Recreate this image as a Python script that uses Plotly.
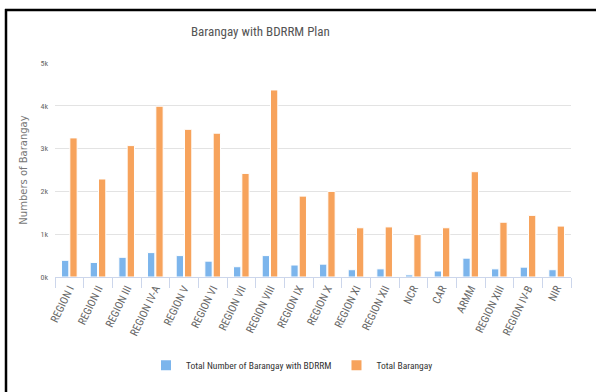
import plotly.graph_objects as go

regions = ["REGION I", "REGION II", "REGION III", "REGION IV-A", "REGION V", "REGION VI",
           "REGION VII", "REGION VIII", "REGION IX", "REGION X", "REGION XI", "REGION XII",
           "NCR", "CAR", "ARMM", "REGION XIII", "REGION IV-B", "NIR"]
with_bdrrm = [390, 340, 460, 570, 500, 370, 240, 500, 280, 300, 170, 190, 50, 140, 440, 190, 230, 170]
total_barangay = [3250, 2290, 3070, 3990, 3450, 3360, 2420, 4370, 1890, 2000, 1150, 1170, 990, 1150, 2460, 1280, 1440, 1190]
y_tick_vals = [0, 1000, 2000, 3000, 4000, 5000]
y_tick_text = ["0k", "1k", "2k", "3k", "4k", "5k"]

FONT = "Liberation Sans Narrow, Arial Narrow, Roboto Condensed, Liberation Sans, sans-serif"

fig = go.Figure()
fig.add_trace(go.Bar(name="Total Number of Barangay with BDRRM", x=regions, y=with_bdrrm,
                     marker=dict(color="#7cb5ec", line=dict(color="white", width=1))))
fig.add_trace(go.Bar(name="Total Barangay", x=regions, y=total_barangay,
                     marker=dict(color="#f7a35c", line=dict(color="white", width=1))))

L, R, T, B = 55, 25, 63, 111
W, H = 596, 392
pw, ph = W - L - R, H - T - B

def px_x(p):
    return (p - L) / pw

def px_y(p):
    return (H - B - p) / ph

fig.update_layout(
    width=W, height=H,
    margin=dict(l=L, r=R, t=T, b=B),
    paper_bgcolor="white", plot_bgcolor="white",
    barmode="group", bargap=0.42, bargroupgap=0.12,
    font=dict(family=FONT, color="#666666", size=9),
    showlegend=True,
    legend=dict(orientation="h", x=px_x(292), xanchor="center", y=px_y(371), yanchor="middle",
                font=dict(family=FONT, size=9.5, color="#333333"), itemwidth=30,
                tracegroupgap=0, itemsizing="constant"),
    xaxis=dict(type="category", tickangle=-64, tickson="boundaries", ticks="outside",
               ticklen=10, tickcolor="#ccd6eb", showline=True, linecolor="#ccd6eb",
               showgrid=False, tickfont=dict(family=FONT, size=11, color="#666666")),
    yaxis=dict(range=[0, 5000], tickvals=y_tick_vals, ticktext=y_tick_text,
               showgrid=True, gridcolor="#e3e3e3", zeroline=False, showline=False,
               ticklabelstandoff=6,
               tickfont=dict(family=FONT, size=8, color="#666666"),
               title=dict(text="Numbers of Barangay", font=dict(family="DejaVu Sans", size=10, color="#777777"),
                          standoff=10)),
    annotations=[dict(text="Barangay with BDRRM Plan", xref="paper", yref="paper",
                      x=px_x(260), y=px_y(31), xanchor="center", yanchor="middle", showarrow=False,
                      font=dict(family=FONT, size=13, color="#555555"))],
    shapes=[
        dict(type="line", xref="paper", yref="paper", x0=px_x(5), x1=px_x(600), y0=px_y(9), y1=px_y(9),
             line=dict(color="black", width=2.5)),
        dict(type="line", xref="paper", yref="paper", x0=px_x(6), x1=px_x(6), y0=px_y(8), y1=px_y(400),
             line=dict(color="black", width=2.5)),
    ],
)

fig.write_html("out.html")
